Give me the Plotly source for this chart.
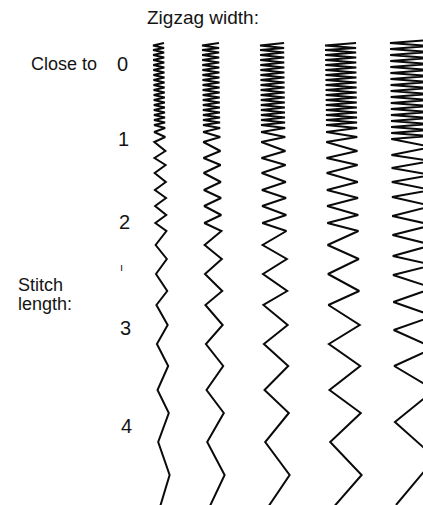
import plotly.graph_objects as go

# ──────────────────────────────────────────────────────────────
# Data: zigzag stitch samples (page pixels, y grows downward)
# ──────────────────────────────────────────────────────────────
width_labels = ["narrow", "2", "3", "4", "widest"]
zigzag_widths = [11, 17, 24, 31, 40]          # stitch width per column
column_left = [153, 202, 260, 325, 390]       # left edge of each column at the top

# turn points of the stitch (alternating sides, last one on the left)
# columns 1-4 share the same feed
stitch_y = [
    43, 45.5, 48, 50, 52.5, 55, 57.5, 60, 62.5, 65, 67.5, 70, 72.5, 75,
    77.5, 80, 82.5, 85, 87.5, 90, 92.5, 95, 97.5, 100, 102.5, 105, 107.5,
    110, 112.5, 115, 117.5, 120, 122.5, 125, 128, 132, 137, 142, 151, 158,
    165, 173, 182, 190, 198, 206, 215, 223, 231, 245, 259, 274, 291, 305,
    325, 344, 366, 390, 413, 442, 475, 510,
]
# widest column
stitch_y_wide = [
    40, 43, 46, 49, 52, 55, 58, 61, 64, 67, 70, 73, 76, 79, 82, 85, 88,
    91, 94, 97, 100, 103, 106, 109, 112, 115, 118, 121, 124, 127, 130,
    133, 136, 139, 147, 155, 161, 168, 175, 182, 190, 197, 206, 216, 225,
    235, 245, 256, 265, 275, 288, 302, 316, 330, 348, 366, 390, 422, 458,
    505,
]

length_labels = ["0", "1", "2", "3", "4"]
length_label_x = [122, 123, 124, 125, 126]
length_label_y = [64, 139, 222, 328, 426]

SKEW = 0.013      # drawing leans slightly to the right going down
TOP = 43

fig = go.Figure()

for i, w in enumerate(zigzag_widths):
    ys = stitch_y_wide if i == len(zigzag_widths) - 1 else stitch_y
    n = len(ys)
    xs = []
    for k, y in enumerate(ys):
        right = (n - 1 - k) % 2 == 1
        xs.append(column_left[i] + SKEW * (y - TOP) + (w if right else 0))
    fig.add_trace(go.Scatter(
        x=xs, y=ys, mode="lines", name=width_labels[i],
        line=dict(color="#0a0a0a", width=2),
        hoverinfo="skip",
    ))

# texts
font = dict(family="Liberation Sans, Arial, sans-serif", color="#141414")

fig.add_annotation(x=203, y=17, text="Zigzag width:", showarrow=False,
                   font=dict(size=19, **font))
fig.add_annotation(x=99, y=64, text="Close to", showarrow=False,
                   xanchor="right", font=dict(size=18, **font))
for lbl, x, y in zip(length_labels, length_label_x, length_label_y):
    fig.add_annotation(x=x, y=y, text=lbl, showarrow=False,
                       font=dict(size=20, **font))
fig.add_annotation(x=121, y=267, text="ı", showarrow=False,
                   font=dict(size=11, **font))
fig.add_annotation(x=16, y=285, text="Stitch", showarrow=False,
                   xanchor="left", font=dict(size=18, **font))
fig.add_annotation(x=16, y=304, text="length:", showarrow=False,
                   xanchor="left", font=dict(size=18, **font))

fig.update_layout(
    width=423, height=505,
    margin=dict(l=0, r=0, t=0, b=0),
    paper_bgcolor="white", plot_bgcolor="white",
    showlegend=False,
    xaxis=dict(range=[0, 423], visible=False, fixedrange=True),
    yaxis=dict(range=[505, 0], visible=False, fixedrange=True),
)

fig.write_html(
    "out.html",
    config={"displayModeBar": False},
    post_script="document.body.style.margin='0';",
)
